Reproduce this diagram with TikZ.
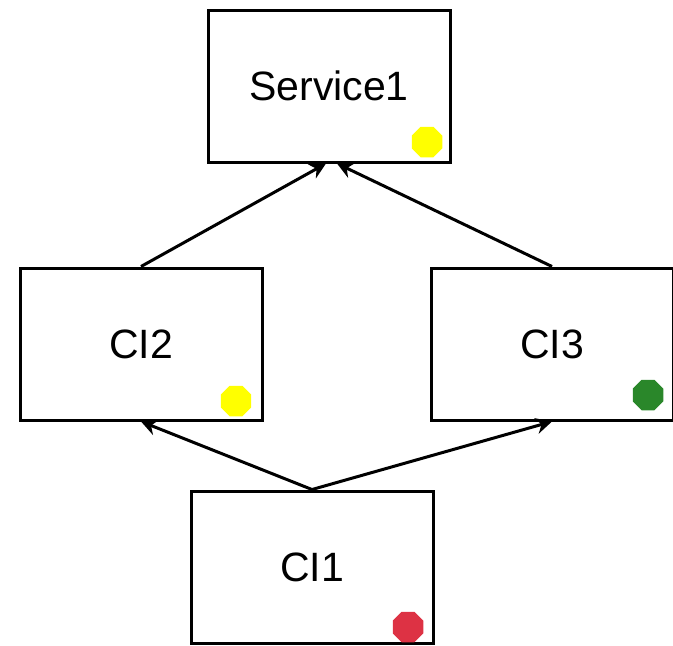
\documentclass[tikz,border=0pt]{standalone}
\usepackage{fontspec}
\setmainfont{Liberation Sans}
\usepackage{tikz}
\usetikzlibrary{shapes.geometric, arrows.meta}
\definecolor{dotyellow}{RGB}{255,255,0}
\definecolor{dotgreen}{RGB}{42,135,42}
\definecolor{dotred}{RGB}{221,50,68}
\tikzstyle{box}   = [rectangle, minimum width=121pt, minimum height=76pt, text centered, draw=black, line width=1.5pt, font=\fontsize{20.5}{24}\selectfont]
\tikzstyle{light} = [regular polygon, regular polygon sides=8, minimum size=16.5pt, inner sep=0pt]
\tikzstyle{arrow} = [line width=1.5pt, -{Stealth[length=8pt, width=8pt]}]

\begin{document}
\begin{tikzpicture}[x=0.5pt, y=-0.5pt]
    \useasboundingbox (0,0) rectangle (673,645);

    \node (service1) [box] at (329,86)  {Service1};
    \node (ci2)      [box] at (141,344) {CI2};
    \node (ci3)      [box] at (552,344) {CI3};
    \node (ci1)      [box] at (312,567) {CI1};

    \node (dots1) [light, fill=dotyellow] at (427,142) {};
    \node (dot2)  [light, fill=dotyellow] at (236,401) {};
    \node (dot3)  [light, fill=dotgreen]  at (648,395) {};
    \node (dot1)  [light, fill=dotred]    at (408,627) {};

    \draw [arrow] (ci2.north) -- ([xshift=-1.5pt]service1.south);
    \draw [arrow] (ci3.north) -- ([xshift=4pt]service1.south);
    \draw [arrow] (ci1.north) -- (ci2.south);
    \draw [arrow] (ci1.north) -- (ci3.south);

\end{tikzpicture}
\end{document}
